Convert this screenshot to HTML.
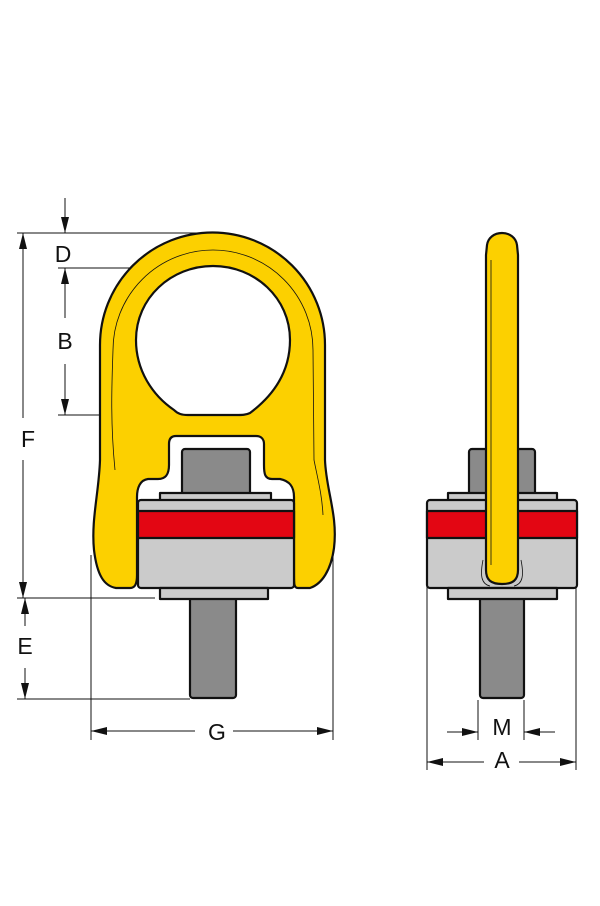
<!DOCTYPE html>
<html><head><style>html,body{margin:0;padding:0;background:#fff}svg{display:block}text{font-family:"Liberation Sans",sans-serif;font-size:23px;fill:#111}</style></head>
<body>
<svg width="600" height="906" viewBox="0 0 600 906" xmlns="http://www.w3.org/2000/svg">
<defs>
<marker id="ar" viewBox="0 0 10 10" refX="10" refY="5" markerWidth="16" markerHeight="8" orient="auto-start-reverse" markerUnits="userSpaceOnUse" preserveAspectRatio="none"><path d="M0,0 L10,5 L0,10 z" fill="#111"/></marker>
</defs>
<g stroke="#111" stroke-width="1" fill="none">
<line x1="17" y1="233" x2="210" y2="233"/>
<line x1="58" y1="268" x2="212" y2="268"/>
<line x1="58" y1="415" x2="200" y2="415"/>
<line x1="17" y1="598" x2="155" y2="598"/>
<line x1="17" y1="699" x2="190" y2="699"/>
<line x1="65" y1="198" x2="65" y2="233" marker-end="url(#ar)"/>
<line x1="65" y1="268" x2="65" y2="318" marker-start="url(#ar)"/>
<line x1="65" y1="364" x2="65" y2="415" marker-end="url(#ar)"/>
<line x1="23" y1="233" x2="23" y2="418" marker-start="url(#ar)"/>
<line x1="23" y1="460" x2="23" y2="598" marker-end="url(#ar)"/>
<line x1="25" y1="598" x2="25" y2="626" marker-start="url(#ar)"/>
<line x1="25" y1="668" x2="25" y2="699" marker-end="url(#ar)"/>
<line x1="91" y1="555" x2="91" y2="740"/>
<line x1="333" y1="555" x2="333" y2="740"/>
<line x1="91" y1="731" x2="195" y2="731" marker-start="url(#ar)"/>
<line x1="233" y1="731" x2="333" y2="731" marker-end="url(#ar)"/>
<line x1="427" y1="585" x2="427" y2="770"/>
<line x1="576" y1="585" x2="576" y2="770"/>
<line x1="478" y1="700" x2="478" y2="740"/>
<line x1="524" y1="700" x2="524" y2="740"/>
<line x1="447" y1="732" x2="478" y2="732" marker-end="url(#ar)"/>
<line x1="555" y1="732" x2="524" y2="732" marker-end="url(#ar)"/>
<line x1="427" y1="762" x2="484" y2="762" marker-start="url(#ar)"/>
<line x1="519" y1="762" x2="576" y2="762" marker-end="url(#ar)"/>
</g>
<text x="63" y="262" text-anchor="middle">D</text>
<text x="65" y="349" text-anchor="middle">B</text>
<text x="28" y="447" text-anchor="middle">F</text>
<text x="25" y="654" text-anchor="middle">E</text>
<text x="217" y="740" text-anchor="middle">G</text>
<text x="502" y="735" text-anchor="middle">M</text>
<text x="502" y="768" text-anchor="middle">A</text>

<g stroke="#111" stroke-width="2.2" stroke-linejoin="round">
<rect x="190" y="595" width="46" height="103" rx="3" fill="#8a8a8a"/>
<path d="M100,345 A112,112 0 0 1 325,345 L325,460 C326,490 338,515 334,548 C331,570 322,584 310,588 L298,588 C294,588 294,584 294,575 L294,497 C294,487 290,481 280,479 L272,479 C265,479 264,474 264,465 L264,444 C264,439 261,436 256,436 L176,436 C171,436 169,439 169,444 L169,465 C169,474 166,479 158,479 L148,479 C140,480 137,488 137,497 L137,575 C137,584 135,588 130,588 L116,588 C104,586 97,575 94,550 C91,520 99,492 100,460 Z" fill="#fcd000"/>
<path d="M213,266 C255,266 290,298 290,340 C290,375 270,398 250,413 C246,415 242,415 236,415 L188,415 C182,415 178,414 174,410 C152,395 136,370 136,340 C136,298 171,266 213,266 Z" fill="#fff"/>
<rect x="182" y="449" width="68" height="46" rx="3" fill="#8a8a8a"/>
<rect x="160" y="493" width="111" height="9" fill="#cbcbcb"/>
<rect x="138" y="500" width="156" height="88" rx="3" fill="#cbcbcb"/>
<rect x="138" y="511" width="156" height="27" fill="#e30613"/>
<rect x="160" y="588" width="108" height="11" fill="#cbcbcb"/>
</g>
<path d="M115,470 C110,420 112,380 113,350 A100,100 0 0 1 313,350 L314,460 C318,480 322,495 323,515" fill="none" stroke="#111" stroke-width="0.8"/>

<g stroke="#111" stroke-width="2.2" stroke-linejoin="round">
<rect x="480" y="595" width="44" height="103" rx="3" fill="#8a8a8a"/>
<rect x="469" y="449" width="66" height="46" rx="3" fill="#8a8a8a"/>
<rect x="448" y="493" width="109" height="9" fill="#cbcbcb"/>
<rect x="427" y="500" width="150" height="88" rx="3" fill="#cbcbcb"/>
<rect x="427" y="511" width="150" height="27" fill="#e30613"/>
<rect x="448" y="588" width="109" height="11" fill="#cbcbcb"/>
<path d="M487,245 C488,238 494,233 502,233 C510,233 516,238 517,245 L518,255 L518,570 C518,580 513,584 502,584 C491,584 486,580 486,570 L486,255 Z" fill="#fcd000"/>
</g>
<line x1="491" y1="260" x2="491" y2="565" stroke="#111" stroke-width="0.8"/>
<path d="M483,560 C480,575 481,584 490,586 M521,560 C524,575 523,584 514,586" fill="none" stroke="#111" stroke-width="0.8"/>
</svg>
</body></html>
